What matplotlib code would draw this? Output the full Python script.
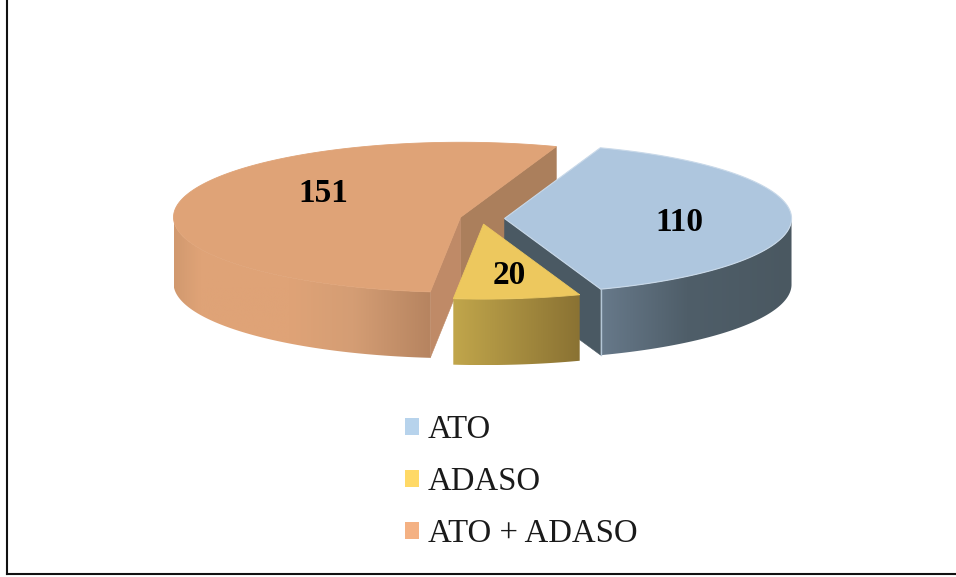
import numpy as np
import matplotlib
matplotlib.use("Agg")
import matplotlib.pyplot as plt
from matplotlib.colors import LinearSegmentedColormap
from matplotlib.patches import Polygon, Patch
from matplotlib.lines import Line2D

categories = ["ATO", "ADASO", "ATO + ADASO"]
values = [110, 20, 151]

start_angle = 70.5
explode = 0.075
depth = 0.88
W, H = 956, 577
CX, CY, RX, RY = 483, 218.5, 287, 75
nudge_px = [0, -2, -1.5]

top_colors = ["#AEC6DE", "#EDC85E", "#DFA377"]
legend_colors = ["#B7D3EC", "#FFD966", "#F4B183"]
wall_stops = [
    [(0, "#67798A"), (0.45, "#4F5E69"), (1, "#4A5861")],
    [(0, "#C1A64B"), (1, "#8A7233")],
    [(0, "#D1996F"), (0.1, "#DFA377"), (0.45, "#DFA377"), (0.7, "#D49D74"), (1, "#B68460")],
]

plt.rcParams["font.family"] = ["Liberation Serif", "DejaVu Serif"]
fig = plt.figure(figsize=(W / 100, H / 100), dpi=100, facecolor="white")
ax = fig.add_axes([0, 0, 1, 1])
ax.set_xlim((0 - CX) / RX, (W - CX) / RX)
ax.set_ylim((CY - H) / RY, (CY - 0) / RY)
ax.axis("off")


def d(px, py):
    return (px - CX) / RX, (CY - py) / RY


# slice angles, running clockwise from the start angle
spans = 360 * np.array(values) / sum(values)
ends = start_angle - np.cumsum(spans)
starts = ends + spans
mids = (starts + ends) / 2
apex = [np.array([explode * np.cos(np.radians(m)) + n / RX, explode * np.sin(np.radians(m))])
        for m, n in zip(mids, nudge_px)]


def rim(i, ang):
    a = np.radians(ang)
    return apex[i] + np.column_stack([np.cos(a), np.sin(a)])


def top(i, z, edge=None, lw=0.6):
    arc = rim(i, np.linspace(starts[i], ends[i], 200))
    ax.add_patch(Polygon(np.vstack([apex[i], arc]), closed=True, facecolor=top_colors[i],
                         edgecolor=edge or top_colors[i], linewidth=lw, zorder=z))


def wall(i, a0, a1, z):
    cmap = LinearSegmentedColormap.from_list("w", wall_stops[i])
    pts = rim(i, np.linspace(a0, a1, 200))
    outline = np.vstack([pts, pts[::-1] - [0, depth]])
    x0, x1 = pts[:, 0].min(), pts[:, 0].max()
    y0, y1 = outline[:, 1].min(), outline[:, 1].max()
    clip = Polygon(outline, closed=True, transform=ax.transData, facecolor="none", edgecolor="none")
    ax.add_patch(clip)
    im = ax.imshow(np.linspace(0, 1, 256)[None, :], extent=(x0, x1, y0, y1), aspect="auto",
                   cmap=cmap, vmin=0, vmax=1, zorder=z, interpolation="bilinear")
    im.set_clip_path(clip)


def face(i, ang, color, z):
    r = rim(i, [ang])[0]
    ax.add_patch(Polygon([apex[i], r, r - [0, depth], apex[i] - [0, depth]], closed=True,
                         facecolor=color, edgecolor=color, lw=0.4, zorder=z))


# ATO + ADASO (rear): back cut face, front cut face, outer wall, top
face(2, ends[2], "#AB7F5C", 1)
face(2, starts[2], "#BF8A67", 1.1)
wall(2, -180, starts[2], 1.2)
top(2, 1.3)

# ATO
face(0, ends[0], "#4A5963", 2)
wall(0, ends[0], 0, 2.1)
top(0, 2.2, edge="#C9D9E9", lw=0.8)
corner = rim(0, [ends[0]])[0]
ax.plot([corner[0], corner[0]], [corner[1], corner[1] - depth], color="#B4C6D6", lw=1, zorder=2.3)

# ADASO (front)
wall(1, starts[1], ends[1], 3)
top(1, 3.1)

# value labels
for v, (px, py) in zip(values, [(679, 223), (509, 276), (323, 194)]):
    x, y = d(px, py)
    ax.text(x, y, str(v), fontsize=24, fontweight="bold", ha="center", va="center", color="black", zorder=5)

# legend
handles = [Patch(facecolor=c, edgecolor="none") for c in legend_colors]
ax.legend(handles, categories, loc="upper left", bbox_to_anchor=(405 / W, 1 - 414.5 / H),
          bbox_transform=fig.transFigure, frameon=False, fontsize=23.6, labelcolor="#1a1a1a",
          handlelength=0.43, handleheight=0.43, handletextpad=0.27, labelspacing=0.66,
          borderpad=0, borderaxespad=0)

# outer frame: left and bottom only
fig.add_artist(Line2D([7 / W, 7 / W], [1 - 573.5 / H, 1], color="#111111", lw=1.5))
fig.add_artist(Line2D([7 / W, 1], [1 - 573.5 / H, 1 - 573.5 / H], color="#111111", lw=1.5))

fig.savefig("out.png", dpi=100, facecolor="white")
